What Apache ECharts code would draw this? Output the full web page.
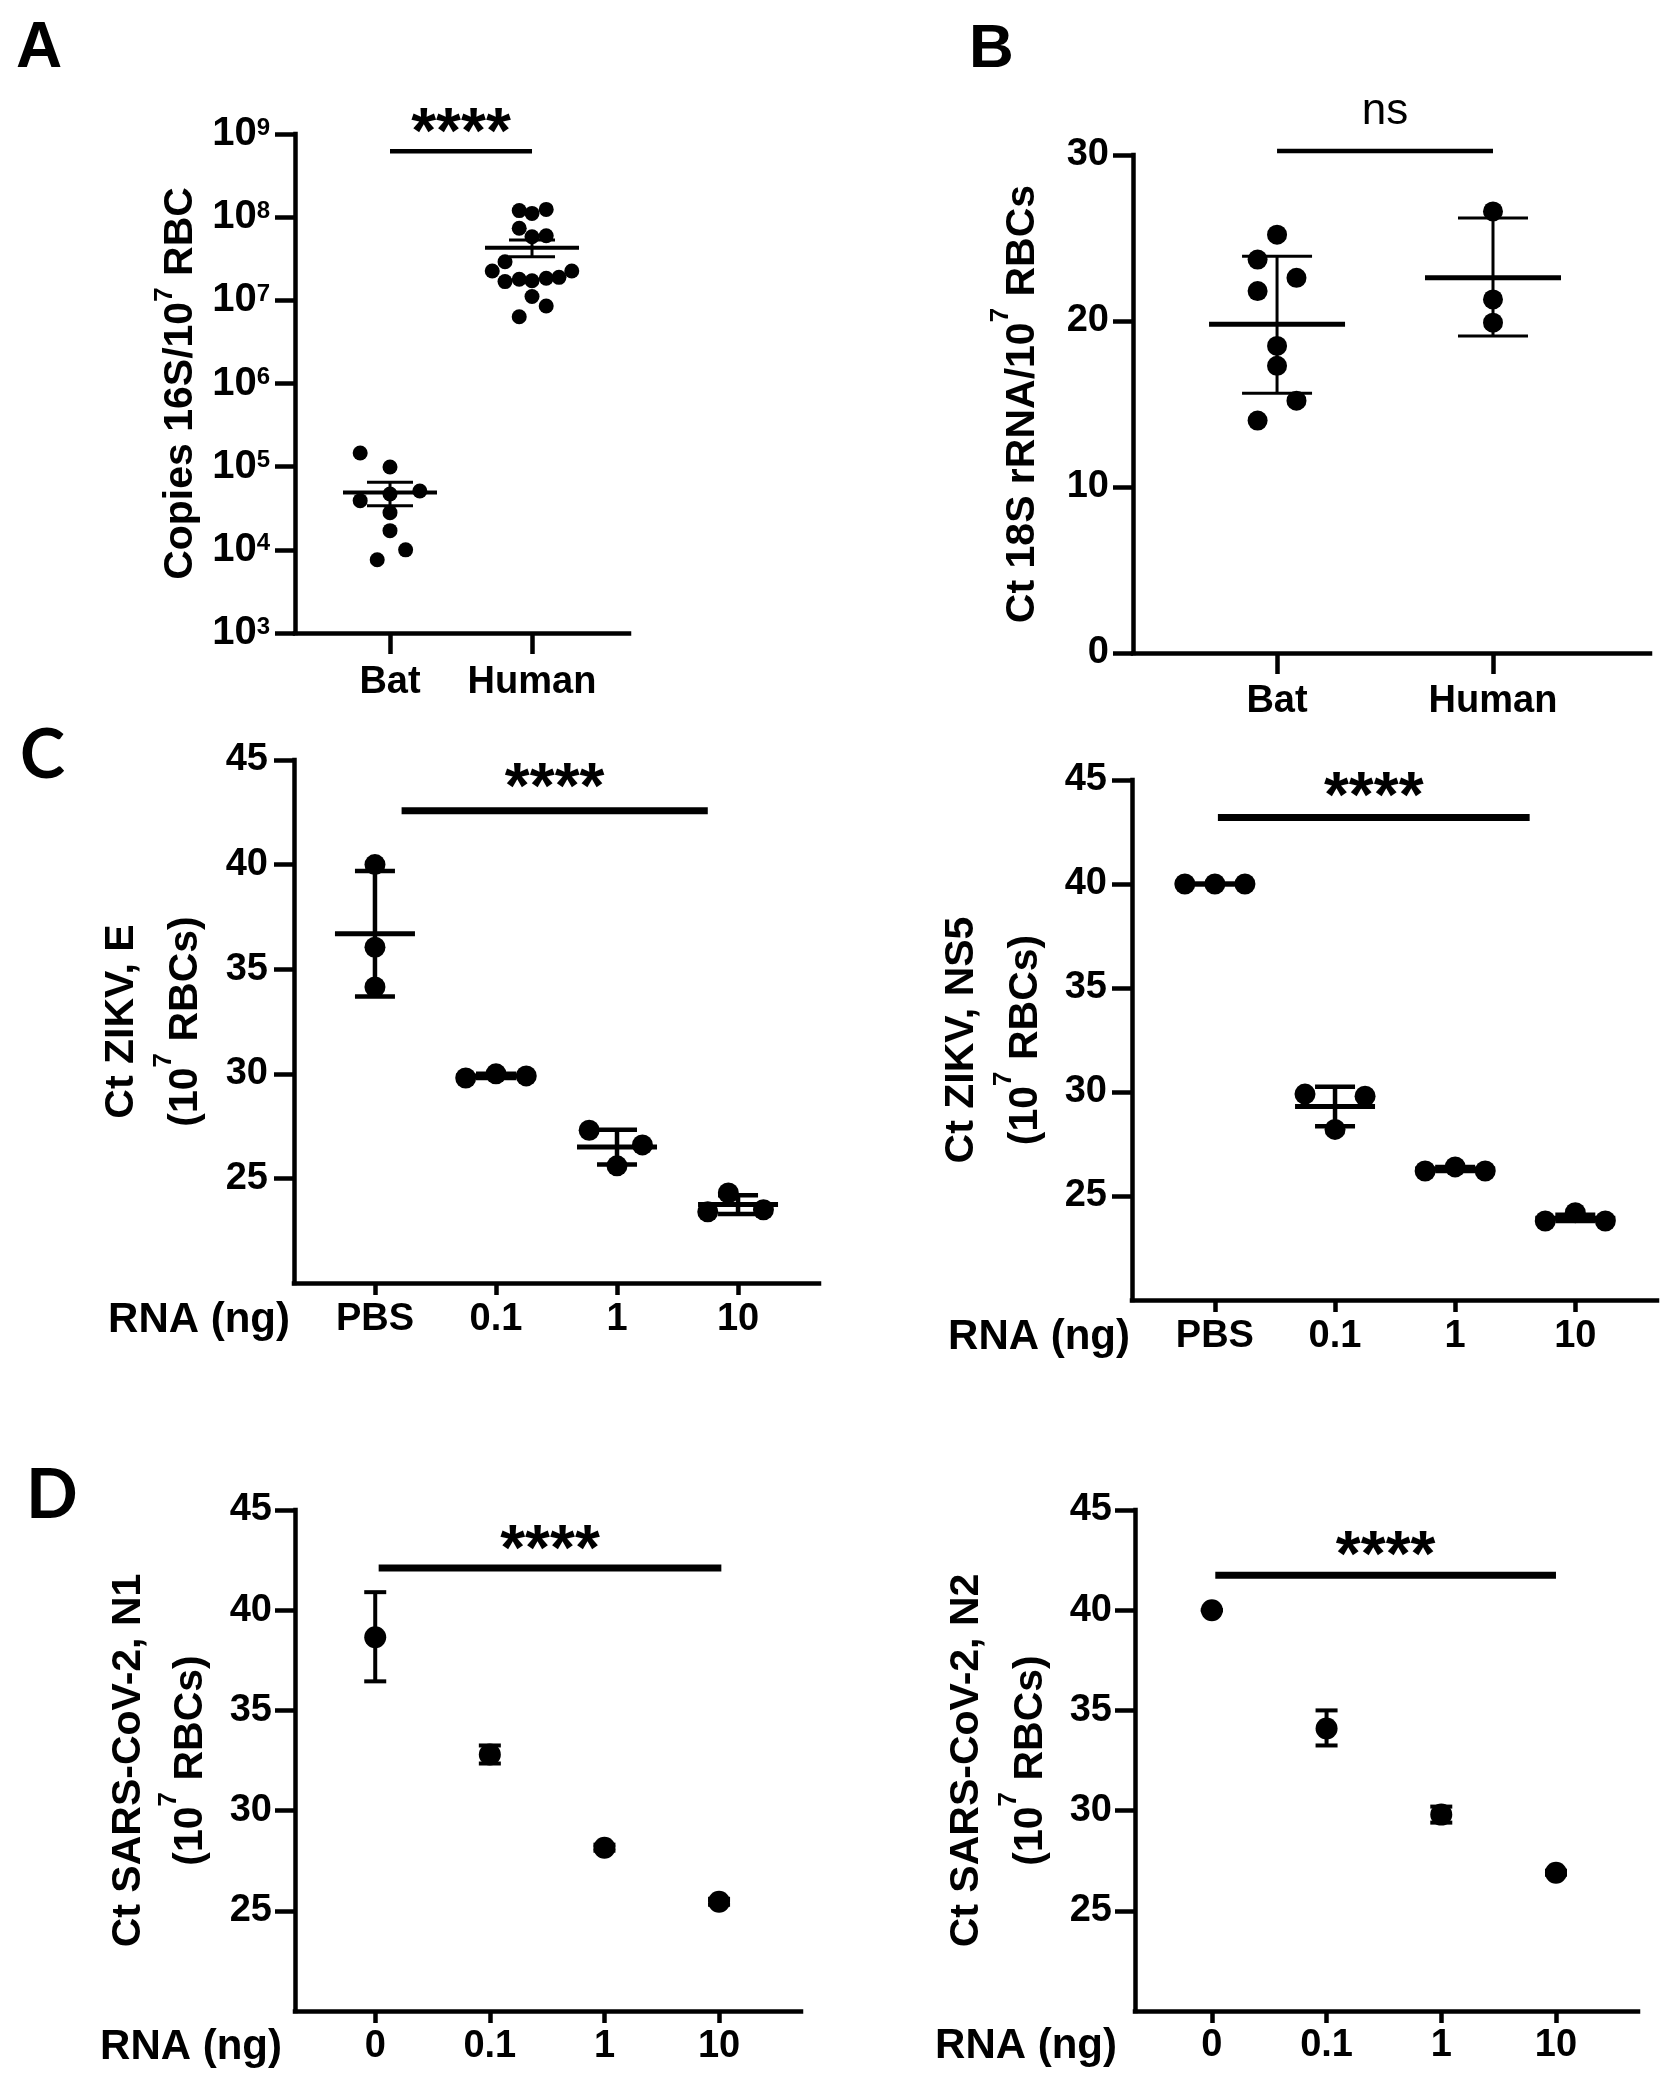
<!DOCTYPE html>
<html><head><meta charset="utf-8">
<script src="https://cdn.jsdelivr.net/npm/echarts@6/dist/echarts.min.js"></script>
<style>html,body{margin:0;padding:0;background:#fff}#chart{width:1676px;height:2100px}</style>
</head><body><div id="chart"></div>
<script>
// ================= DATA =================
// Panel A : copies 16S / 10^7 RBC (log scale)
const catsA = ['Bat', 'Human'];
const batCopies   = [1.46e5, 9.9e4, 5.1e4, 4.7e4, 3.9e4, 2.8e4, 1.7e4, 1.0e4, 7.6e3];
const batJitterA  = [-0.21, 0, 0.21, 0, -0.21, 0, 0, 0.11, -0.09];
const humanCopies = [1.20e8, 1.11e8, 1.24e8, 7.35e7, 5.82e7, 5.98e7, 2.91e7, 2.25e7, 2.25e7,
                     1.68e7, 1.79e7, 1.72e7, 1.84e7, 1.89e7, 1.11e7, 8.55e6, 6.36e6];
const humanJitterA = [-0.09, 0, 0.1, -0.09, 0, 0.1, -0.19, -0.28, 0.28, -0.19, -0.09, 0, 0.1, 0.19, 0, 0.1, -0.09];
const meanA = [4.9e4, 4.3e7];
const lowA  = [3.4e4, 3.35e7];
const highA = [6.5e4, 5.3e7];
const tickExpA = [3, 4, 5, 6, 7, 8, 9];

// Panel B : Ct 18S rRNA
const catsB = ['Bat', 'Human'];
const batCt = [25.2, 23.7, 22.6, 21.8, 18.5, 17.3, 15.2, 14.0];
const batJitterB = [0, -0.09, 0.09, -0.09, 0, 0, 0.09, -0.09];
const humanCt = [26.6, 21.3, 19.9];
const humanJitterB = [0, 0, 0];
const meanB = [19.8, 22.6];
const lowB  = [15.65, 19.1];
const highB = [23.9, 26.2];

// Panel C : ZIKV E and NS5
const catsC = ['PBS', '0.1', '1', '10'];
const zikvE = [[40.0, 36.05, 34.15], [29.8, 30.0, 29.9], [27.3, 26.6, 25.6], [24.3, 23.4, 23.5]];
const zikvEJitter = [[0, 0, 0], [-0.25, 0, 0.25], [-0.23, 0.21, 0], [-0.08, -0.25, 0.21]];
const meanCE = [36.7, 29.9, 26.5, 23.75];
const lowCE  = [33.7, 29.8, 25.67, 23.3];
const highCE = [39.7, 30.0, 27.33, 24.2];

const zikvNS5 = [[40, 40, 40], [29.9, 29.8, 28.2], [26.2, 26.4, 26.2], [23.8, 24.2, 23.8]];
const zikvNS5Jitter = [[-0.25, 0, 0.25], [-0.25, 0.25, 0], [-0.25, 0, 0.25], [-0.25, 0, 0.25]];
const meanCN = [40, 29.3, 26.3, 23.93];
const lowCN  = [40, 28.35, 26.2, 23.8];
const highCN = [40, 30.25, 26.4, 24.1];

// Panel D : SARS-CoV-2 N1 and N2 (mean +/- error)
const catsD = ['0', '0.1', '1', '10'];
const meanN1 = [38.65, 32.8, 28.15, 25.45];
const lowN1  = [36.45, 32.35, 28.0, 25.3];
const highN1 = [40.9, 33.25, 28.3, 25.6];
const meanN2 = [40, 34.1, 29.8, 26.9];
const lowN2  = [40, 33.25, 29.4, 26.8];
const highN2 = [40, 35.0, 30.2, 27.0];

const yTicksCD = [25, 30, 35, 40, 45];

// significance annotations: [fromX, toX, atY]
const sigA = [[0, 1, 6.2e8]];   const sigTextA = ['****'];
const sigB = [[0, 1, 30.24]];   const sigTextB = ['ns'];
const sigC1 = [[0.22, 2.75, 42.57]]; const sigTextC1 = ['****'];
const sigC2 = [[0.025, 2.62, 43.2]]; const sigTextC2 = ['****'];
const sigD1 = [[0.03, 3.02, 42.1]];  const sigTextD1 = ['****'];
const sigD2 = [[0.03, 3.0, 41.75]];  const sigTextD2 = ['****'];

// ================= HELPERS =================
const FONT = '"Liberation Sans", Arial, Helvetica, sans-serif';
const BLACK = '#000';

function pointsFrom(groups, jitters) {
  const out = [];
  groups.forEach((g, i) => g.forEach((v, j) => out.push([i + jitters[i][j], v])));
  return out;
}
function statsFrom(means, lows, highs) {
  return means.map((m, i) => [i, m, lows[i], highs[i]]);
}
function errRender(st) {
  return function (params, api) {
    const x = api.value(0), m = api.value(1), lo = api.value(2), hi = api.value(3);
    const c = api.coord([x, m]), cl = api.coord([x, lo]), ch = api.coord([x, hi]);
    const ls = {stroke: BLACK, lineWidth: st.errWidth};
    const kids = [
      {type: 'line', shape: {x1: c[0], y1: ch[1], x2: c[0], y2: cl[1]}, style: ls},
      {type: 'line', shape: {x1: c[0] - st.capHalf, y1: ch[1], x2: c[0] + st.capHalf, y2: ch[1]}, style: ls},
      {type: 'line', shape: {x1: c[0] - st.capHalf, y1: cl[1], x2: c[0] + st.capHalf, y2: cl[1]}, style: ls}
    ];
    if (st.meanHalf) kids.push({type: 'line', shape: {x1: c[0] - st.meanHalf, y1: c[1], x2: c[0] + st.meanHalf, y2: c[1]},
      style: {stroke: BLACK, lineWidth: st.meanWidth}});
    return {type: 'group', children: kids};
  };
}
function sigRender(texts, st) {
  return function (params, api) {
    const a = api.coord([api.value(0), api.value(2)]);
    const b = api.coord([api.value(1), api.value(2)]);
    return {type: 'group', children: [
      {type: 'line', shape: {x1: a[0], y1: a[1], x2: b[0], y2: b[1]}, style: {stroke: BLACK, lineWidth: st.width}},
      {type: 'text', x: (a[0] + b[0]) / 2, y: a[1] - st.textOffset,
        style: {text: texts[params.dataIndex], fontSize: st.fontSize, fontWeight: st.fontWeight,
          fontFamily: FONT, fill: BLACK, align: 'center', verticalAlign: 'middle'}}
    ]};
  };
}
function scatter(gi, data, size) {
  return {type: 'scatter', xAxisIndex: gi, yAxisIndex: gi, data, symbol: 'circle', symbolSize: size,
    itemStyle: {color: BLACK, opacity: 1}, silent: true, z: 3};
}
function errSeries(gi, data, st) {
  return {type: 'custom', xAxisIndex: gi, yAxisIndex: gi, data, renderItem: errRender(st),
    encode: {x: 0, y: 1}, clip: false, silent: true, z: 4};
}
function sigSeries(gi, data, texts, st) {
  return {type: 'custom', xAxisIndex: gi, yAxisIndex: gi, data, renderItem: sigRender(texts, st),
    encode: {x: 0, y: 2}, clip: false, silent: true, z: 5};
}
const lineStyle = (w) => ({color: BLACK, width: w, cap: 'square'});

function xCat(gi, cats, min, max, o) {
  const ax = {
    type: 'value', gridIndex: gi, min, max,
    axisLine: {show: true, onZero: false, lineStyle: lineStyle(o.w)},
    axisTick: {show: true, length: o.tick, lineStyle: {color: BLACK, width: o.w}, customValues: cats.map((c, i) => i)},
    axisLabel: {show: true, customValues: cats.map((c, i) => i), formatter: (v) => cats[Math.round(v)],
      color: BLACK, fontSize: 38, fontWeight: 'bold', fontFamily: FONT, margin: o.margin},
    splitLine: {show: false}
  };
  if (o.name) {
    ax.name = o.name; ax.nameLocation = 'start'; ax.nameGap = o.nameGap;
    ax.nameTextStyle = {color: BLACK, fontSize: 42, fontWeight: 'bold', fontFamily: FONT,
      verticalAlign: 'top', align: 'right', lineHeight: o.nameLH};
  }
  return ax;
}
function yVal(gi, o) {
  const ax = {
    type: o.type || 'value', gridIndex: gi, min: o.min, max: o.max,
    axisLine: {show: true, onZero: false, lineStyle: lineStyle(o.w)},
    axisTick: {show: true, length: 20, lineStyle: {color: BLACK, width: o.w}},
    axisLabel: {show: true, color: BLACK, fontSize: 38, fontWeight: 'bold', fontFamily: FONT, margin: o.margin},
    splitLine: {show: false},
    name: o.name, nameLocation: 'middle', nameGap: o.nameGap,
    nameTextStyle: {color: BLACK, rich: o.rich}
  };
  if (o.interval) ax.interval = o.interval;
  if (o.logBase) ax.logBase = o.logBase;
  if (o.customTicks) { ax.axisTick.customValues = o.customTicks; ax.axisLabel.customValues = o.customTicks; }
  if (o.formatter) ax.axisLabel.formatter = o.formatter;
  if (o.labelRich) ax.axisLabel.rich = o.labelRich;
  return ax;
}
function titleRich(lh, supPad) {
  return {
    t: {fontSize: 41, fontWeight: 'bold', fontFamily: FONT, color: BLACK, lineHeight: lh},
    s: {fontSize: 26, fontWeight: 'bold', fontFamily: FONT, color: BLACK, lineHeight: lh - supPad, padding: [0, 0, supPad, 0]}
  };
}

// ================= OPTION =================
const grids = [
  {left: 295, top: 134, width: 334, height: 499},
  {left: 1133, top: 155, width: 517, height: 498},
  {left: 294, top: 760, width: 525, height: 523},
  {left: 1132, top: 780, width: 525, height: 520},
  {left: 295, top: 1510, width: 506, height: 501},
  {left: 1135, top: 1510, width: 503, height: 501}
].map(g => Object.assign({containLabel: false, outerBoundsMode: 'none'}, g));

const xAxes = [
  xCat(0, catsA, -0.669, 1.683, {w: 4.5, tick: 21, margin: 31}),
  xCat(1, catsB, -0.667, 1.727, {w: 4.5, tick: 21, margin: 30}),
  xCat(2, catsC, -0.669, 3.669, {w: 4.5, tick: 12, margin: 18, name: 'RNA (ng)', nameGap: 4, nameLH: 74}),
  xCat(3, catsC, -0.69, 3.68, {w: 4.5, tick: 12, margin: 18, name: 'RNA (ng)', nameGap: 2, nameLH: 74}),
  xCat(4, catsD, -0.70, 3.715, {w: 4.5, tick: 12, margin: 17, name: 'RNA (ng)', nameGap: 13, nameLH: 72}),
  xCat(5, catsD, -0.67, 3.715, {w: 4.5, tick: 12, margin: 16, name: 'RNA (ng)', nameGap: 18, nameLH: 70})
];

const yAxes = [
  yVal(0, {type: 'log', logBase: 10, min: 1e3, max: 1e9, w: 4.5, margin: 25,
    customTicks: tickExpA.map(e => Math.pow(10, e)),
    formatter: (v) => '{b|10}{s|' + Math.round(Math.log10(v)) + '}',
    labelRich: {b: {fontSize: 40, fontWeight: 'bold', fontFamily: FONT, color: BLACK, lineHeight: 40},
                s: {fontSize: 24, fontWeight: 'bold', fontFamily: FONT, color: BLACK, lineHeight: 28, padding: [0, 0, 12, 0]}},
    name: '{t|Copies 16S/10}{s|7}{t| RBC}', nameGap: 88, rich: titleRich(48, 30)}),
  yVal(1, {min: 0, max: 30, interval: 10, w: 4.5, margin: 24,
    name: '{t|Ct 18S rRNA/10}{s|7}{t| RBCs}', nameGap: 86, rich: titleRich(48, 44)}),
  yVal(2, {min: 20, max: 45, customTicks: yTicksCD, w: 4.5, margin: 26,
    name: '{t|Ct ZIKV, E}\n{t|(10}{s|7}{t| RBCs)}', nameGap: 76, rich: titleRich(64, 44)}),
  yVal(3, {min: 20, max: 45, customTicks: yTicksCD, w: 4.5, margin: 25,
    name: '{t|Ct ZIKV, NS5}\n{t|(10}{s|7}{t| RBCs)}', nameGap: 71, rich: titleRich(64, 44)}),
  yVal(4, {min: 20, max: 45, customTicks: yTicksCD, w: 4.5, margin: 23,
    name: '{t|Ct SARS-CoV-2, N1}\n{t|(10}{s|7}{t| RBCs)}', nameGap: 66, rich: titleRich(62, 44)}),
  yVal(5, {min: 20, max: 45, customTicks: yTicksCD, w: 4.5, margin: 23,
    name: '{t|Ct SARS-CoV-2, N2}\n{t|(10}{s|7}{t| RBCs)}', nameGap: 70, rich: titleRich(64, 44)})
];

const series = [
  // A
  scatter(0, pointsFrom([batCopies, humanCopies], [batJitterA, humanJitterA]), 15),
  errSeries(0, statsFrom(meanA, lowA, highA), {errWidth: 3, capHalf: 23, meanHalf: 47, meanWidth: 4}),
  sigSeries(0, sigA, sigTextA, {width: 4.5, textOffset: 16, fontSize: 64, fontWeight: 'bold'}),
  // B
  scatter(1, pointsFrom([batCt, humanCt], [batJitterB, humanJitterB]), 20),
  errSeries(1, statsFrom(meanB, lowB, highB), {errWidth: 3, capHalf: 35, meanHalf: 68, meanWidth: 5}),
  sigSeries(1, sigB, sigTextB, {width: 4.5, textOffset: 39, fontSize: 44, fontWeight: 'normal'}),
  // C left
  scatter(2, pointsFrom(zikvE, zikvEJitter), 21),
  errSeries(2, statsFrom(meanCE, lowCE, highCE), {errWidth: 4.5, capHalf: 20, meanHalf: 40, meanWidth: 5}),
  sigSeries(2, sigC1, sigTextC1, {width: 7, textOffset: 20, fontSize: 64, fontWeight: 'bold'}),
  // C right
  scatter(3, pointsFrom(zikvNS5, zikvNS5Jitter), 21),
  errSeries(3, statsFrom(meanCN, lowCN, highCN), {errWidth: 4.5, capHalf: 20, meanHalf: 40, meanWidth: 5}),
  sigSeries(3, sigC2, sigTextC2, {width: 7, textOffset: 18, fontSize: 64, fontWeight: 'bold'}),
  // D left
  scatter(4, meanN1.map((m, i) => [i, m]), 22),
  errSeries(4, statsFrom(meanN1, lowN1, highN1), {errWidth: 4, capHalf: 11, meanHalf: 0}),
  sigSeries(4, sigD1, sigTextD1, {width: 7, textOffset: 16, fontSize: 64, fontWeight: 'bold'}),
  // D right
  scatter(5, meanN2.map((m, i) => [i, m]), 22),
  errSeries(5, statsFrom(meanN2, lowN2, highN2), {errWidth: 4, capHalf: 11, meanHalf: 0}),
  sigSeries(5, sigD2, sigTextD2, {width: 7, textOffset: 17, fontSize: 64, fontWeight: 'bold'})
];

const letter = (t, x, y, font, size) => ({type: 'text', left: x, top: y,
  style: {text: t, fontSize: size, fontWeight: 'bold', fontFamily: font, fill: BLACK}});

const option = {
  backgroundColor: '#fff',
  animation: false,
  grid: grids,
  xAxis: xAxes,
  yAxis: yAxes,
  series,
  graphic: [
    letter('A', 16, 17, FONT, 64),
    letter('B', 969, 19, FONT, 62),
    letter('C', 20, 722, 'Lato, "Open Sans", sans-serif', 68),
    letter('D', 26, 1462, 'Lato, "Open Sans", sans-serif', 68)
  ]
};

const chart = echarts.init(document.getElementById('chart'), null, {renderer: 'canvas', width: 1676, height: 2100});
chart.setOption(option);
</script>
</body></html>
